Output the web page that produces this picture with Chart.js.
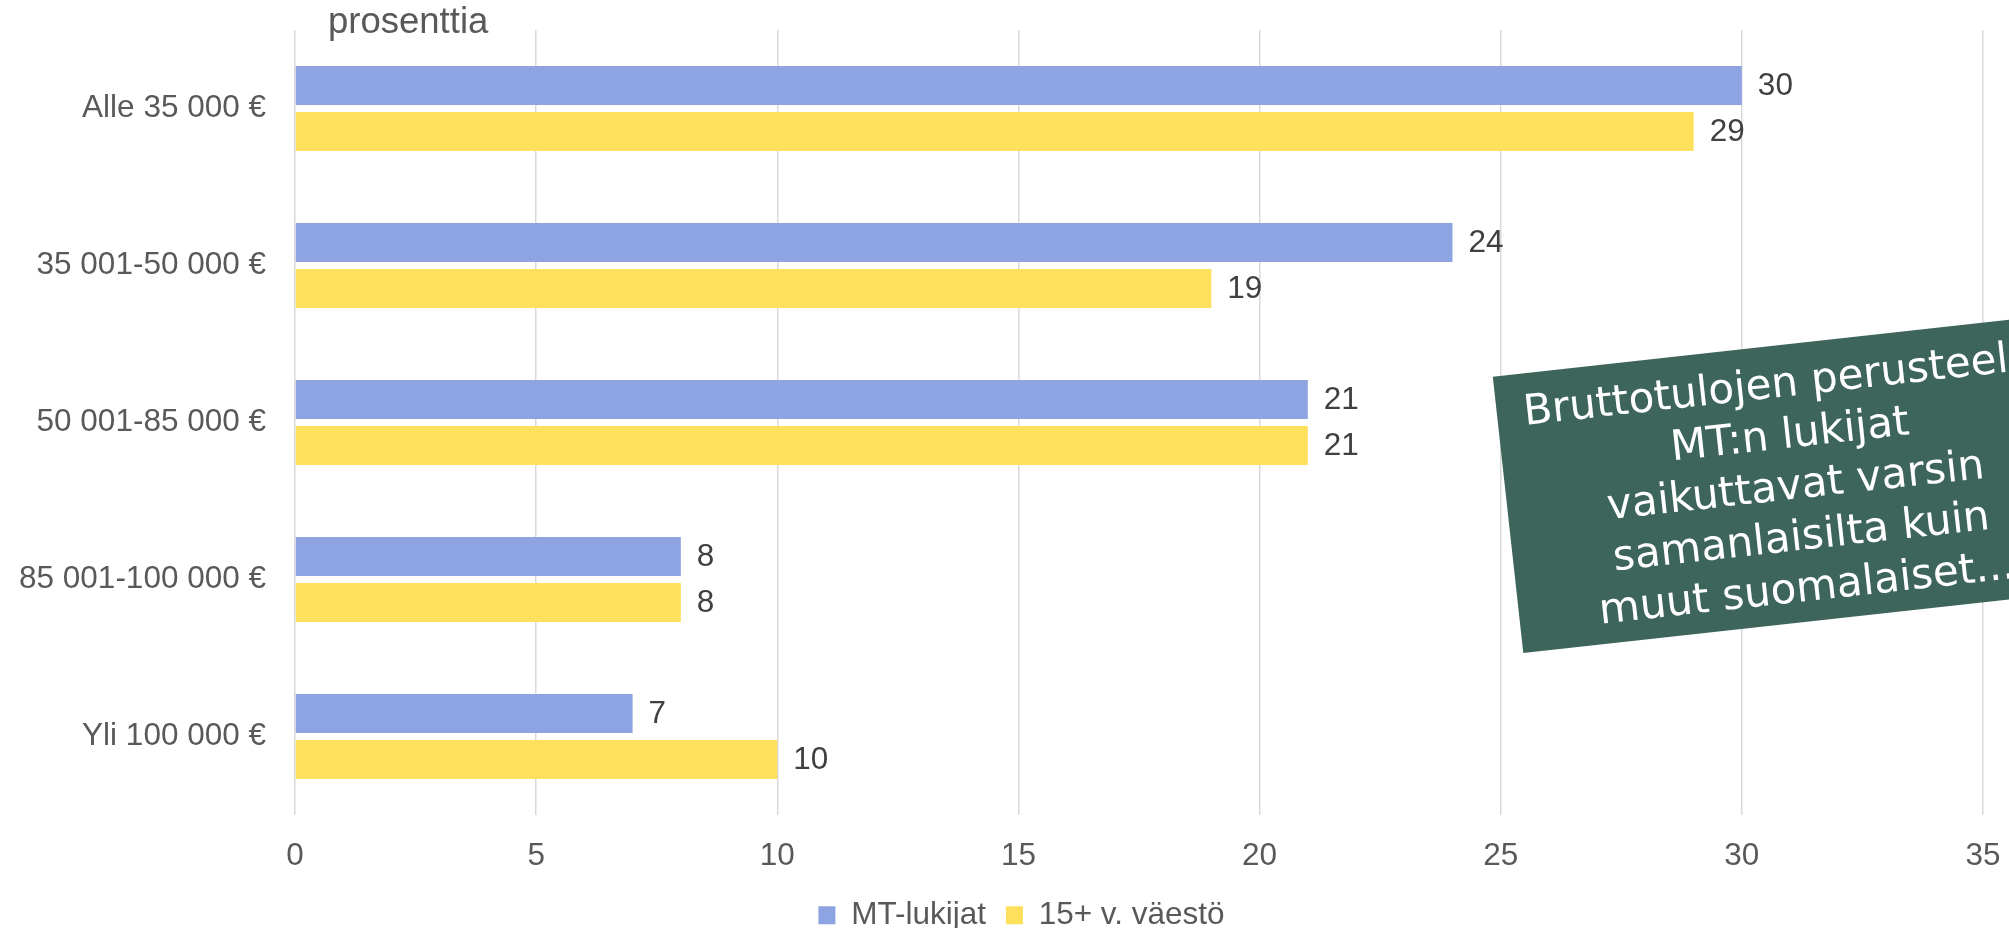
<!DOCTYPE html>
<html>
<head>
<meta charset="utf-8">
<script src="https://cdn.jsdelivr.net/npm/chart.js@4"></script>
<style>
  html, body { margin: 0; padding: 0; background: #ffffff; }
  #wrap { width: 2009px; height: 928px; position: relative; }
</style>
</head>
<body>
<div id="wrap"><canvas id="c" width="2009" height="928"></canvas></div>
<script>
const categories = ["Alle 35 000 €", "35 001-50 000 €", "50 001-85 000 €", "85 001-100 000 €", "Yli 100 000 €"];
const seriesNames = ["MT-lukijat", "15+ v. väestö"];
const mtValues = [30, 24, 21, 8, 7];
const popValues = [29, 19, 21, 8, 10];
const axisTitle = "prosenttia";
const noteLines = ["Bruttotulojen perusteella", "MT:n lukijat", "vaikuttavat varsin", "samanlaisilta kuin", "muut suomalaiset..."];
const xMin = 0, xMax = 35, xStep = 5;

const FONT = "'Liberation Sans', Arial, sans-serif";
const GRAY = "#595959";

const valueLabels = {
  id: "valueLabels",
  afterDatasetsDraw(chart) {
    const ctx = chart.ctx;
    ctx.save();
    ctx.font = "31.5px " + FONT;
    ctx.fillStyle = "#404040";
    ctx.textAlign = "left";
    ctx.textBaseline = "middle";
    chart.data.datasets.forEach((ds, di) => {
      const meta = chart.getDatasetMeta(di);
      meta.data.forEach((bar, i) => {
        ctx.fillText(String(ds.data[i]), bar.x + 16, bar.y + 1);
      });
    });
    ctx.restore();
  }
};

const extras = {
  id: "extras",
  afterLayout(chart) {
    const lg = chart.legend;
    if (lg) {
      const dx = 30;
      const dy = 912 - (lg.top + lg.height / 2 + 1.75);
      lg.left += dx; lg.right += dx;
      lg.top += dy; lg.bottom += dy;
    }
  },
  afterDraw(chart) {
    const ctx = chart.ctx;
    ctx.save();
    ctx.font = "36.5px " + FONT;
    ctx.fillStyle = GRAY;
    ctx.textAlign = "left";
    ctx.textBaseline = "alphabetic";
    ctx.fillText(axisTitle, 328, 33);
    ctx.restore();

    // rotated note box
    ctx.save();
    ctx.translate(1795.3, 483.2);
    ctx.rotate(-6.3 * Math.PI / 180);
    ctx.fillStyle = "#3D655C";
    ctx.fillRect(-289, -139, 578, 278);
    ctx.fillStyle = "#ffffff";
    ctx.font = "42px 'DejaVu Sans', Verdana, sans-serif";
    ctx.textAlign = "center";
    ctx.textBaseline = "alphabetic";
    noteLines.forEach((t, i) => {
      ctx.fillText(t, 0, -139 + 51.5 + i * 51.45);
    });
    ctx.restore();
  }
};

new Chart(document.getElementById("c"), {
  type: "bar",
  data: {
    labels: categories,
    datasets: [
      { label: seriesNames[0], data: mtValues, backgroundColor: "#8EA4E2", categoryPercentage: 0.586, barPercentage: 0.848 },
      { label: seriesNames[1], data: popValues, backgroundColor: "#FFE05C", categoryPercentage: 0.586, barPercentage: 0.848 }
    ]
  },
  options: {
    indexAxis: "y",
    responsive: false,
    animation: false,
    devicePixelRatio: 1,
    layout: { padding: { left: 0, right: 26, top: 30, bottom: 0 } },
    plugins: {
      legend: {
        position: "bottom",
        labels: {
          boxWidth: 17, boxHeight: 18, padding: 20,
          color: GRAY,
          font: { family: FONT, size: 31.5 }
        }
      },
      tooltip: { enabled: false },
      title: { display: false }
    },
    scales: {
      x: {
        min: xMin, max: xMax,
        ticks: { stepSize: xStep, color: GRAY, font: { family: FONT, size: 31.5 }, padding: 22, maxRotation: 0 },
        grid: { color: "#D9D9D9", lineWidth: 1.5, drawTicks: false },
        border: { display: false },
        afterFit(scale) {
          const lg = scale.chart.legend;
          const lh = lg && lg.height ? lg.height : 62.5;
          scale.height = 113 - lh;
          scale.paddingLeft = 0; scale.paddingRight = 0;
          scale._computeLabelArea = function () { return undefined; };
        }
      },
      y: {
        ticks: { color: GRAY, font: { family: FONT, size: 31.5 }, padding: 29 },
        grid: { display: false, drawTicks: false },
        border: { display: false },
        afterFit(scale) {
          scale.width = 295;
          scale.paddingTop = 0; scale.paddingBottom = 0;
        }
      }
    }
  },
  plugins: [valueLabels, extras]
});
</script>
</body>
</html>
